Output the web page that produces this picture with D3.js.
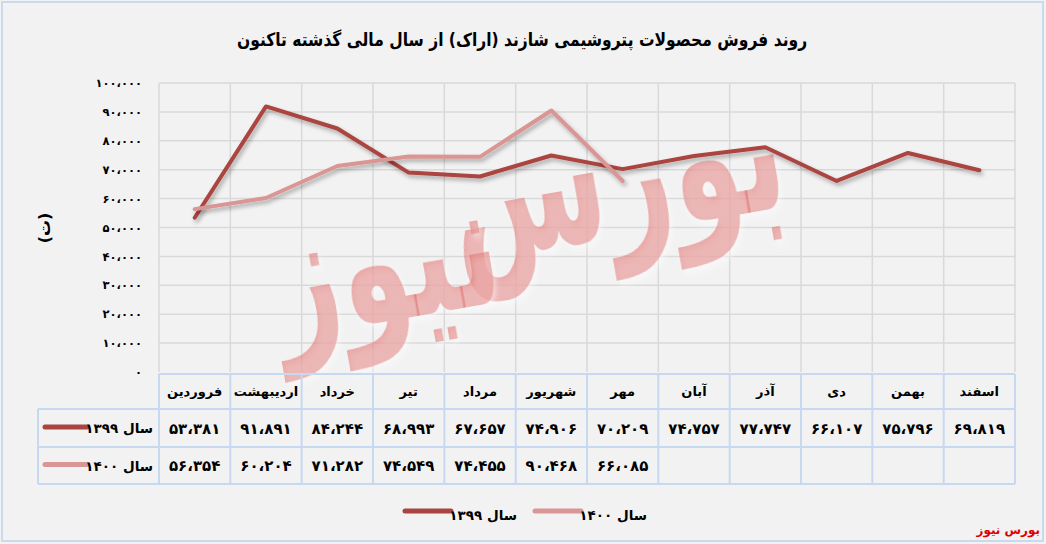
<!DOCTYPE html>
<html><head><meta charset="utf-8">
<script src="https://cdn.jsdelivr.net/npm/d3@7"></script>
<style>
html,body{margin:0;padding:0;background:#fff;}
svg{display:block;font-family:"DejaVu Sans",sans-serif;}
</style></head>
<body>
<svg id="c" width="1046" height="544"></svg>
<script>
const title = "روند فروش محصولات پتروشیمی شازند (اراک) از سال مالی گذشته تاکنون";
const categories = ["فروردین","اردیبهشت","خرداد","تیر","مرداد","شهریور","مهر","آبان","آذر","دی","بهمن","اسفند"];
const seriesNames = ["سال ۱۳۹۹","سال ۱۴۰۰"];
const values1399 = [53381,91891,84244,68993,67657,74906,70209,74757,77747,66107,75796,69819];
const values1400 = [56354,60204,71282,74549,74455,90468,66085];
const yTicks = [0,10000,20000,30000,40000,50000,60000,70000,80000,90000,100000];
const yLabel = "(ت)";
const watermark = ["بورس","نیوز"];
const credit = "بورس نیوز";

const colors = ["#aa4440","#d99694"];
const series = [values1399, values1400];

const faDigits = "۰۱۲۳۴۵۶۷۸۹";
function toFa(n){
  const s = n.toString().replace(/\B(?=(\d{3})+(?!\d))/g, "،");
  return s.replace(/\d/g, d => faDigits[+d]);
}

const svg = d3.select("#c");
const W = 1046, H = 544;
const pLeft = 159, pRight = 1015, pTop = 83, pBottom = 372;

svg.append("rect").attr("x",0).attr("y",0).attr("width",W).attr("height",H).attr("fill","#f2f2f2");
svg.append("rect").attr("x",2).attr("y",2).attr("width",W-5).attr("height",H-5)
  .attr("fill","none").attr("stroke","#c9daf0").attr("stroke-width",2);

const defs = svg.append("defs");
const f = defs.append("filter").attr("id","sh").attr("x","-10%").attr("y","-10%").attr("width","120%").attr("height","130%");
f.append("feDropShadow").attr("dx",2).attr("dy",3).attr("stdDeviation",2).attr("flood-color","#000").attr("flood-opacity",0.3);
const f2 = defs.append("filter").attr("id","wm").attr("x","-10%").attr("y","-10%").attr("width","120%").attr("height","130%");
f2.append("feDropShadow").attr("dx",2).attr("dy",3).attr("stdDeviation",3).attr("flood-color","#fff").attr("flood-opacity",0.9);

const x = d3.scaleBand().domain(categories).range([pLeft,pRight]);
const y = d3.scaleLinear().domain([0,100000]).range([pBottom,pTop]);

const grid = svg.append("g");
grid.selectAll("line.h").data(yTicks.filter(d=>d>0)).join("line")
  .attr("x1",pLeft).attr("x2",pRight).attr("y1",d=>y(d)).attr("y2",d=>y(d))
  .attr("stroke","#d9d9d9").attr("stroke-width",1.5);
const bounds = categories.map(c=>x(c)).concat([pRight]);
grid.selectAll("line.v").data(bounds).join("line")
  .attr("x1",d=>d).attr("x2",d=>d).attr("y1",pTop).attr("y2",pBottom)
  .attr("stroke","#d9d9d9").attr("stroke-width",1.5);

const yAxis = d3.axisLeft(y).tickValues(yTicks).tickFormat(toFa).tickSize(0).tickPadding(17);
const ya = svg.append("g").attr("transform",`translate(${pLeft},0)`).call(yAxis);
ya.select(".domain").remove();
ya.selectAll("text").attr("font-size",11.5).attr("font-weight","bold").attr("fill","#000").attr("font-family","DejaVu Sans");

svg.append("text").attr("transform","translate(45,228) rotate(-90)").attr("text-anchor","middle")
  .attr("dominant-baseline","middle").attr("font-size",16).attr("font-weight","bold").text(yLabel);

// watermark
svg.append("text").attr("x",625).attr("y",235).attr("text-anchor","middle")
  .attr("font-size",135).attr("font-weight","bold").attr("fill","#e0625f").attr("fill-opacity",0.55)
  .attr("transform","rotate(-10,625,235) translate(625,235) scale(0.85,1.35) translate(-625,-235)")
  .attr("filter","url(#wm)").text(watermark[0]);
svg.append("text").attr("x",395).attr("y",320).attr("text-anchor","middle")
  .attr("font-size",135).attr("font-weight","bold").attr("fill","#e0625f").attr("fill-opacity",0.55)
  .attr("transform","rotate(-10,395,320) translate(395,320) scale(0.85,1.3) translate(-395,-320)")
  .attr("filter","url(#wm)").text(watermark[1]);

const line = d3.line().x((d,i)=>x(categories[i])+x.bandwidth()/2).y(d=>y(d));
series.forEach((s,k)=>{
  svg.append("path").datum(s).attr("d",line).attr("fill","none")
    .attr("stroke",colors[k]).attr("stroke-width",4).attr("stroke-linejoin","round").attr("stroke-linecap","round")
    .attr("filter","url(#sh)");
});

svg.append("text").attr("x",522).attr("y",46).attr("text-anchor","middle")
  .attr("transform","translate(522,0) scale(0.84,1) translate(-522,0)")
  .attr("font-size",18.5).attr("font-weight","bold").attr("fill","#000").text(title);

const tb = svg.append("g");
const rowY = [374,409,447,484];
const tStroke = "#c6d9f1";
tb.append("line").attr("x1",pLeft).attr("x2",pRight).attr("y1",rowY[0]).attr("y2",rowY[0]).attr("stroke",tStroke).attr("stroke-width",2);
[1,2,3].forEach(i=>tb.append("line").attr("x1",38).attr("x2",pRight).attr("y1",rowY[i]).attr("y2",rowY[i]).attr("stroke",tStroke).attr("stroke-width",2));
bounds.forEach(b=>tb.append("line").attr("x1",b).attr("x2",b).attr("y1",rowY[0]).attr("y2",rowY[3]).attr("stroke",tStroke).attr("stroke-width",2));
tb.append("line").attr("x1",38).attr("x2",38).attr("y1",rowY[1]).attr("y2",rowY[3]).attr("stroke",tStroke).attr("stroke-width",2);

tb.selectAll("text.cat").data(categories).join("text")
  .attr("x",d=>x(d)+x.bandwidth()/2).attr("y",(rowY[0]+rowY[1])/2+1)
  .attr("text-anchor","middle").attr("dominant-baseline","middle")
  .attr("font-size",13).attr("font-weight","bold").text(d=>d);

series.forEach((s,k)=>{
  const cy = (rowY[k+1]+rowY[k+2])/2;
  tb.selectAll(null).data(s).join("text")
    .attr("x",(d,i)=>x(categories[i])+x.bandwidth()/2).attr("y",cy+1)
    .attr("text-anchor","middle").attr("dominant-baseline","middle")
    .attr("font-size",15).attr("font-weight","bold").text(d=>toFa(d));
  tb.append("line").attr("x1",45).attr("x2",87).attr("y1",cy-1).attr("y2",cy-1)
    .attr("stroke",colors[k]).attr("stroke-width",5).attr("stroke-linecap","round");
  tb.append("text").attr("x",153).attr("y",cy+1).attr("text-anchor","end").attr("dominant-baseline","middle")
    .attr("font-size",13.5).attr("font-weight","bold").text(seriesNames[k]);
});

const lg = svg.append("g");
const legendItems = [{name:seriesNames[0],c:colors[0],x:405},{name:seriesNames[1],c:colors[1],x:535}];
legendItems.forEach(it=>{
  lg.append("line").attr("x1",it.x).attr("x2",it.x+46).attr("y1",511).attr("y2",511)
    .attr("stroke",it.c).attr("stroke-width",5).attr("stroke-linecap","round");
  lg.append("text").attr("x",it.x+112).attr("y",516).attr("text-anchor","end").attr("dominant-baseline","middle")
    .attr("font-size",13.5).attr("font-weight","bold").text(it.name);
});

svg.append("text").attr("x",1040).attr("y",530).attr("text-anchor","end").attr("dominant-baseline","middle")
  .attr("font-size",12).attr("font-weight","bold").attr("fill","#e00000").text(credit);
</script>
</body></html>
